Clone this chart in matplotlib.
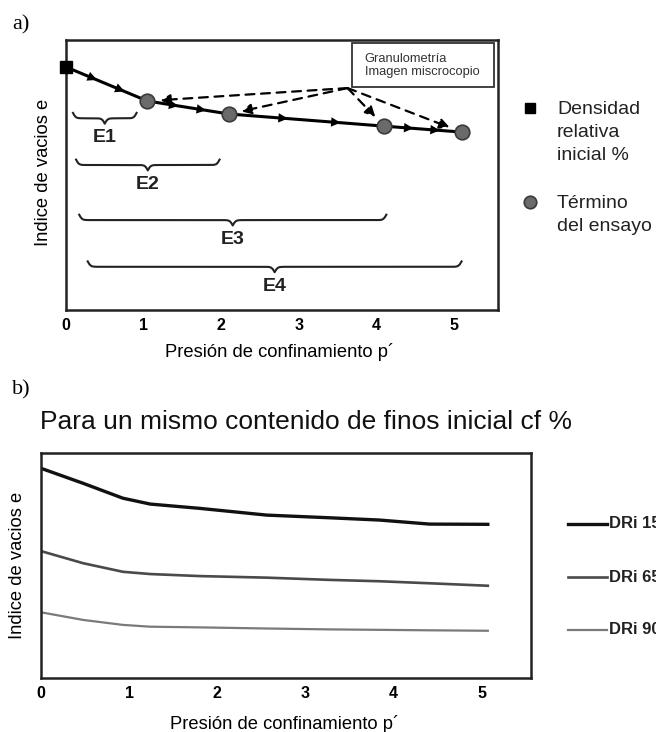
import matplotlib
matplotlib.use("Agg")
import matplotlib.pyplot as plt
import numpy as np

plt.rcParams['font.family'] = ['Liberation Sans', 'DejaVu Sans']

# ---- panel a data ----
path_x = [0.0, 1.05, 2.1, 4.1, 5.1]
path_y = [0.90, 0.774, 0.726, 0.681, 0.659]
end_x = [1.05, 2.1, 4.1, 5.1]
end_y = [0.774, 0.726, 0.681, 0.659]
callout_x = 3.63
callout_y = 0.822
brace_labels = ['E1', 'E2', 'E3', 'E4']
brace_start = [0.09, 0.13, 0.17, 0.28]
brace_end = [0.91, 1.98, 4.13, 5.1]
brace_y = [0.71, 0.537, 0.333, 0.16]
xticks = [0, 1, 2, 3, 4, 5]
legend_a = [['Densidad', 'relativa', 'inicial %'], ['Término', 'del ensayo']]

# ---- panel b data ----
p_x = [0.0, 0.48, 0.93, 1.24, 1.80, 2.56, 3.28, 3.84, 4.41, 5.07]
dri15 = [0.932, 0.865, 0.799, 0.773, 0.754, 0.724, 0.712, 0.702, 0.684, 0.683]
dri65 = [0.564, 0.510, 0.472, 0.462, 0.453, 0.446, 0.436, 0.430, 0.421, 0.410]
dri90 = [0.292, 0.258, 0.236, 0.228, 0.225, 0.220, 0.216, 0.214, 0.212, 0.210]
series_labels = ['DRi 15%', 'DRi 65%', 'DRi 90%']
series_colors = ['#111111', '#4a4a4a', '#7a7a7a']
series_lw = [2.4, 1.9, 1.6]


def brace(ax, x0, x1, y, h=0.02):
    # curly brace, tip pointing down
    n = 201
    beta = 55.0
    x = np.linspace(x0, x1, n)
    xh = x[:n // 2 + 1]
    yh = 1 / (1 + np.exp(-beta * (xh - xh[0]))) + 1 / (1 + np.exp(-beta * (xh - xh[-1])))
    yy = np.concatenate((yh, yh[-2::-1]))
    ax.plot(x, y - 2 * h * (yy - 1), color='#222222', lw=1.5)


fig = plt.figure(figsize=(6.56, 7.32), dpi=100)

# ================= panel a =================
ax = fig.add_axes([66 / 656, 1 - 310 / 732, 432 / 656, 270 / 732])
ax.set_xlim(0, 5.57)
ax.set_ylim(0, 1)

ax.plot(path_x, path_y, color='black', lw=2.2, zorder=3)
# direction arrows along the path
for i in range(len(path_x) - 1):
    a = np.array([path_x[i], path_y[i]])
    b = np.array([path_x[i + 1], path_y[i + 1]])
    for f in (0.38, 0.72):
        p = a + f * (b - a)
        q = p - 0.02 * (b - a)
        ax.annotate('', xy=p, xytext=q,
                    arrowprops=dict(arrowstyle='-|>', color='black', lw=0,
                                    mutation_scale=17), zorder=4)
ax.plot(path_x[0], path_y[0], 's', color='black', ms=9, clip_on=False, zorder=5)
ax.plot(end_x, end_y, 'o', color='#6a6a6a', mec='#3a3a3a', mew=1.2, ms=10.5, zorder=5)

# dashed callout arrows
for xe, ye in zip(end_x, end_y):
    ax.annotate('', xy=(xe, ye), xytext=(callout_x, callout_y),
                arrowprops=dict(arrowstyle='-|>', color='black', lw=1.6,
                                linestyle=(0, (4, 3)), mutation_scale=15,
                                shrinkA=0, shrinkB=9), zorder=4)
ax.text(3.69 + 0.16, 0.905, 'Granulometría\nImagen miscrocopio', fontsize=9.3,
        va='center', ha='left', color='#333333', linespacing=1.15)
ax.add_patch(plt.Rectangle((3.69, 0.826), 1.83, 0.163, fill=False,
                           ec='#333333', lw=1.3))

for lab, x0, x1, y in zip(brace_labels, brace_start, brace_end, brace_y):
    brace(ax, x0, x1, y)
    ax.text((x0 + x1) / 2, y - 0.072, lab, ha='center', va='center',
            fontsize=14, fontweight='bold', color='#222222')

ax.set_xticks(xticks)
ax.set_yticks([])
ax.tick_params(axis='x', length=0, pad=6, labelsize=11.5)
for t in ax.get_xticklabels():
    t.set_fontweight('bold')
for s in ax.spines.values():
    s.set_linewidth(1.8)
    s.set_color('#222222')
ax.set_ylabel('Indice de vacios e', fontsize=13.2)
ax.yaxis.set_label_coords(-0.032, 0.51)
fig.text(280 / 656, 1 - 352 / 732, 'Presión de confinamiento p´', fontsize=13.2,
         ha='center', va='center')

# legend for panel a
ax.plot([530 / 656], [1 - 108 / 732], 's', color='black', ms=7,
        transform=fig.transFigure, clip_on=False)
ax.plot([530 / 656], [1 - 202 / 732], 'o', color='#6a6a6a', mec='#3a3a3a', mew=1.2,
        ms=9, transform=fig.transFigure, clip_on=False)
for lines, y0 in zip(legend_a, [109, 203]):
    for j, s in enumerate(lines):
        fig.text(557 / 656, 1 - (y0 + 23.5 * j) / 732, s, fontsize=14,
                 va='center', ha='left', color='#222222')

fig.text(12 / 656, 1 - 25 / 732, 'a)', fontsize=16, family='Liberation Serif',
         va='center', ha='left')

# ================= panel b =================
bx = fig.add_axes([41 / 656, 1 - 678 / 732, 490 / 656, 225 / 732])
bx.set_xlim(0, 5.56)
bx.set_ylim(0, 1)
for ys, c, lw in zip([dri15, dri65, dri90], series_colors, series_lw):
    bx.plot(p_x, ys, color=c, lw=lw)
bx.set_xticks(xticks)
bx.set_yticks([])
bx.tick_params(axis='x', length=0, pad=6, labelsize=11.5)
for t in bx.get_xticklabels():
    t.set_fontweight('bold')
for s in bx.spines.values():
    s.set_linewidth(1.8)
    s.set_color('#222222')
bx.set_ylabel('Indice de vacios e', fontsize=13.2)
bx.yaxis.set_label_coords(-0.03, 0.50)
fig.text(285 / 656, 1 - 729 / 732, 'Presión de confinamiento p´', fontsize=13.2,
         ha='center', va='baseline')

# legend for panel b (runs off the right edge as in the original)
for i, (lab, c, lw) in enumerate(zip(series_labels, series_colors, series_lw)):
    yf = 1 - (524 + 53 * i) / 732
    bx.plot([568 / 656, 607 / 656], [yf, yf], color=c, lw=lw,
            transform=fig.transFigure, clip_on=False)
    fig.text(609 / 656, yf, lab, fontsize=12, fontweight='bold',
             va='center', ha='left', color='#222222')

fig.text(12 / 656, 1 - 390 / 732, 'b)', fontsize=16, family='Liberation Serif',
         va='center', ha='left')
fig.text(40 / 656, 1 - 422 / 732, 'Para un mismo contenido de finos inicial cf %',
         fontsize=19, va='center', ha='left', color='#111111')

fig.savefig('out.png', dpi=100)
